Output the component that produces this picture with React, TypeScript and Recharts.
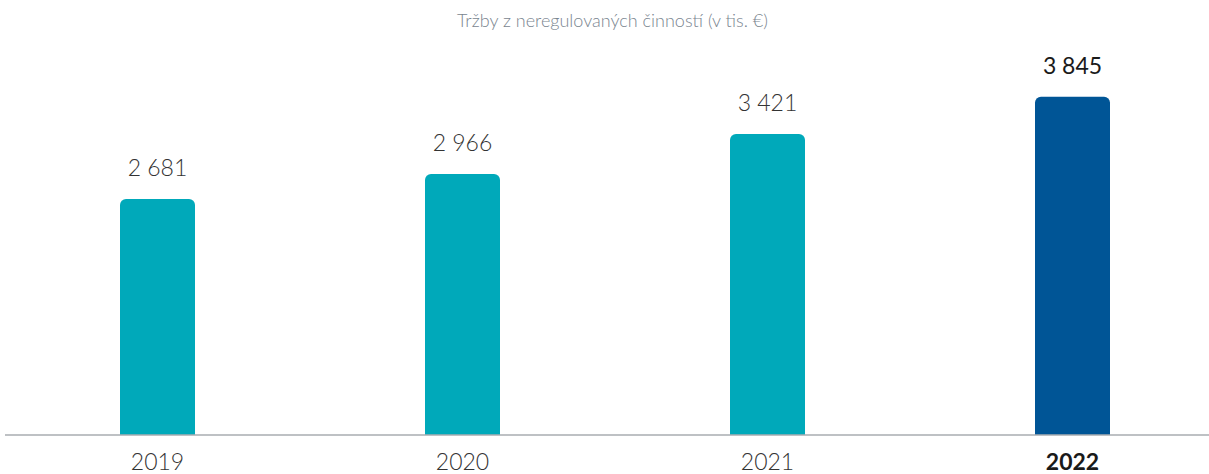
import React from 'react';
import { BarChart, Bar, XAxis, YAxis, Cell, LabelList } from 'recharts';

const years = ['2019', '2020', '2021', '2022'];
const revenue = [2681, 2966, 3421, 3845];
const labels = ['2 681', '2 966', '3 421', '3 845'];

const data = years.map((year, i) => ({ year, revenue: revenue[i], label: labels[i] }));

const FONT = 'Lato, "Open Sans", sans-serif';
const last = years.length - 1;

function YearTick(props: any) {
  const { x, y, payload, index } = props;
  const hl = index === last;
  return (
    <text x={x} y={y + 27} textAnchor="middle" fontFamily={FONT} fontSize={23}
      fontWeight={hl ? 700 : 300} fill={hl ? '#1a1a1a' : '#333'}>
      {payload.value}
    </text>
  );
}

function ValueLabel(props: any) {
  const { x, y, width, value, index } = props;
  const hl = index === last;
  return (
    <text x={x + width / 2} y={y - 23} textAnchor="middle" fontFamily={FONT} fontSize={23}
      fontWeight={hl ? 400 : 300} fill={hl ? '#1a1a1a' : '#333'}>
      {value}
    </text>
  );
}

export default function App() {
  return (
    <div style={{ position: 'absolute', left: 0, top: 0, width: 1209, height: 474, overflow: 'hidden', background: '#fff' }}>
      <div style={{ position: 'absolute', left: 0, width: 1225, top: 9, textAlign: 'center', fontFamily: FONT, fontSize: 18, fontWeight: 300, color: '#7a858f' }}>
        Tržby z neregulovaných činností (v tis. €)
      </div>
      <BarChart width={1225} height={474} data={data} margin={{ top: 83, right: 0, bottom: 0, left: 5 }}>
        <XAxis dataKey="year" height={39} tickLine={false} axisLine={{ stroke: '#a9adb0', strokeWidth: 1.5 }} tick={<YearTick />} interval={0} />
        <YAxis hide domain={[0, 4000]} />
        <Bar dataKey="revenue" barSize={75} radius={[6, 6, 0, 0]} isAnimationActive={false}>
          {data.map((d, i) => (
            <Cell key={d.year} fill={i === last ? '#005596' : '#00a9ba'} />
          ))}
          <LabelList dataKey="label" content={<ValueLabel />} />
        </Bar>
      </BarChart>
    </div>
  );
}
